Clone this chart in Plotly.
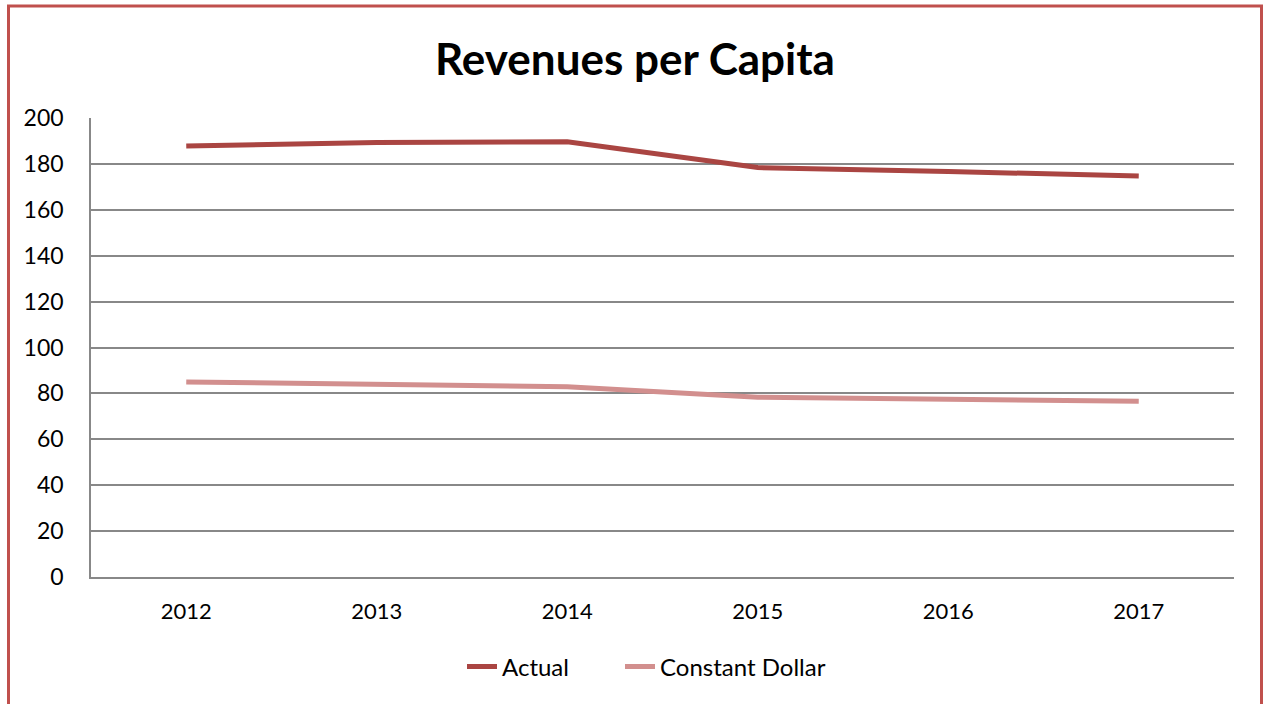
import plotly.graph_objects as go

# Revenues per capita, actual vs. constant dollar
years = ["2012", "2013", "2014", "2015", "2016", "2017"]
actual = [187.8, 189.3, 189.6, 178.4, 176.7, 174.7]
constant_dollar = [85.0, 84.1, 82.9, 78.3, 77.4, 76.6]

y_ticks = [0, 20, 40, 60, 80, 100, 120, 140, 160, 180, 200]

FONT = "Lato"
fig = go.Figure()
fig.add_trace(go.Scatter(
    x=years, y=actual, name="Actual", mode="lines",
    line=dict(color="#AA4542", width=5), legend="legend",
))
fig.add_trace(go.Scatter(
    x=years, y=constant_dollar, name="Constant Dollar", mode="lines",
    line=dict(color="#D28F8E", width=5), legend="legend2",
))

W, H = 1263, 704
ml, mr, mt, mb = 91, 29, 118, 127
pw, ph = W - ml - mr, H - mt - mb


def px_x(p):
    return (p - ml) / pw


def px_y(p):
    return (H - mb - p) / ph


legend_style = dict(orientation="h", yanchor="middle", y=px_y(667),
                    xanchor="left", font=dict(family=FONT, size=24),
                    bgcolor="rgba(0,0,0,0)")

fig.update_layout(
    width=W, height=H,
    margin=dict(l=ml, r=mr, t=mt, b=mb),
    paper_bgcolor="white", plot_bgcolor="white",
    font=dict(family=FONT, color="#000000", size=22),
    title=dict(text="<b>Revenues per Capita</b>", xref="container",
               x=635 / W, xanchor="center",
               y=1 - 60 / H, yanchor="middle",
               font=dict(family=FONT, size=44, color="#000000")),
    showlegend=True,
    legend=dict(x=px_x(462), **legend_style),
    legend2=dict(x=px_x(620), **legend_style),
    xaxis=dict(type="category", range=[-0.5, 5.5], showgrid=False,
               showline=True, linecolor="#888888", linewidth=1.5,
               ticks="", ticklabelstandoff=14, tickfont=dict(size=22),
               zeroline=False, fixedrange=True),
    yaxis=dict(range=[0, 200], tickvals=y_ticks, showgrid=True,
               gridcolor="#888888", gridwidth=1.5,
               showline=True, linecolor="#888888", linewidth=1.5,
               ticks="", ticklabelstandoff=21, tickfont=dict(size=23),
               zeroline=False, fixedrange=True),
    shapes=[
        dict(type="rect", xref="paper", yref="paper",
             x0=px_x(8.5), x1=px_x(1261.5), y0=px_y(6), y1=px_y(760),
             line=dict(color="#C0504D", width=3), layer="above"),
    ],
)

fig.write_html("out.html")
